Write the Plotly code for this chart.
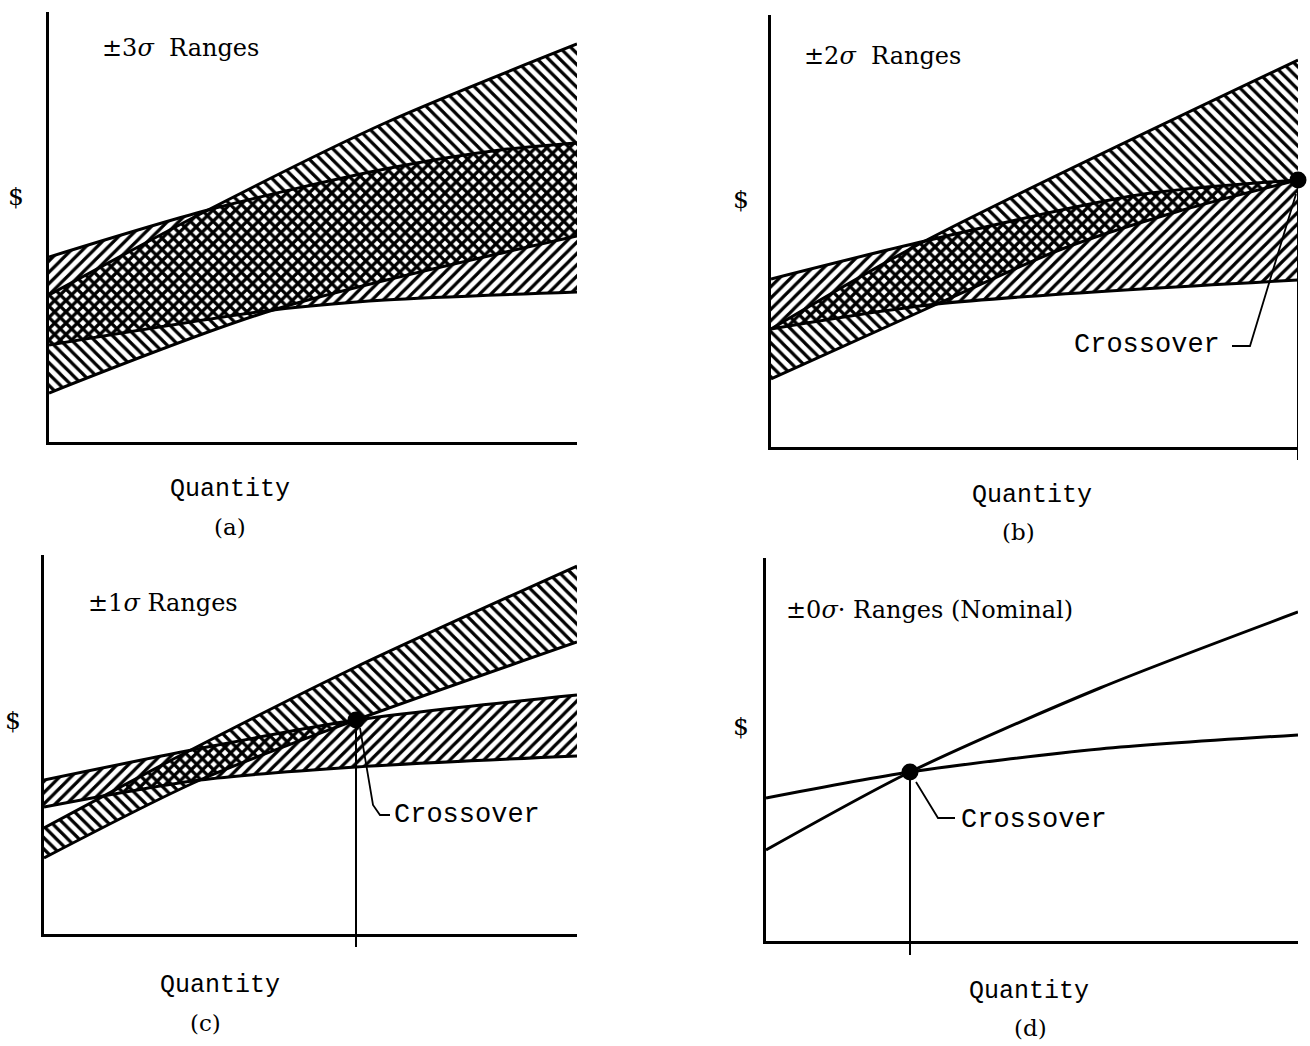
import plotly.graph_objects as go

# ---------------- data (offsets from each panel's origin, arbitrary $ / quantity units) -------------
# panel (a)  ±3σ
a_steep_hi_x = [0, 159, 336, 528]
a_steep_hi_y = [147, 232, 319, 398]
a_steep_lo_x = [0, 224, 528]
a_steep_lo_y = [49, 132, 206]
a_flat_hi_x = [0, 159, 336, 451, 528]
a_flat_hi_y = [185, 232, 273, 292, 299]
a_flat_lo_x = [0, 224, 336, 528]
a_flat_lo_y = [97, 132, 142, 150]

# panel (b)  ±2σ
b_steep_hi_x = [0, 154, 527]
b_steep_hi_y = [118, 206, 387]
b_steep_lo_x = [0, 166, 291, 405, 527]
b_steep_lo_y = [68, 143, 198, 235, 267]
b_flat_hi_x = [0, 154, 367, 527]
b_flat_hi_y = [168, 206, 252, 267]
b_flat_lo_x = [0, 166, 527]
b_flat_lo_y = [118, 143, 167]
b_cross = (527, 267)

# panel (c)  ±1σ
c_steep_hi_x = [0, 141, 312, 533]
c_steep_hi_y = [106, 181, 267, 368]
c_steep_lo_x = [0, 156, 312, 533]
c_steep_lo_y = [76, 154, 214, 292]
c_flat_hi_x = [0, 148, 312, 533]
c_flat_hi_y = [154, 184, 214, 239]
c_flat_lo_x = [0, 156, 312, 533]
c_flat_lo_y = [127, 154, 167, 178]
c_cross = (312, 214)

# panel (d)  ±0σ nominal
d_steep_x = [0, 144, 334, 532]
d_steep_y = [91, 169, 253, 329]
d_flat_x = [0, 144, 334, 532]
d_flat_y = [143, 169, 192, 206]
d_cross = (144, 169)

titles = ["±3<i>σ</i>  Ranges", "±2<i>σ</i>  Ranges", "±1<i>σ</i> Ranges", "±0<i>σ</i>· Ranges (Nominal)"]
letters = ["(a)", "(b)", "(c)", "(d)"]

# ---------------- layout geometry (pixels) ----------------
FW, FH = 1310, 1046
# left, right, top, bottom of each panel's axes
frames = [(49, 577, 12, 442), (771, 1298, 15, 447), (44, 577, 555, 934), (766, 1298, 558, 941)]

def px(x):
    return x / FW

def py(y):
    return 1 - y / FH

fig = go.Figure()
LW = 3
SERIF = "DejaVu Serif, Liberation Serif, serif"
MONO = "Liberation Mono, DejaVu Sans Mono, monospace"

def axname(i):
    return "" if i == 0 else str(i + 1)

def line(i, x, y, **kw):
    ax = axname(i)
    fig.add_trace(go.Scatter(x=x, y=y, mode="lines", xaxis="x" + ax, yaxis="y" + ax,
                             line=dict(color="black", width=LW, shape="spline", smoothing=0.8),
                             showlegend=False, hoverinfo="skip", **kw))

def band(i, lo_x, lo_y, hi_x, hi_y, shape):
    line(i, lo_x, lo_y)
    line(i, hi_x, hi_y, fill="tonexty", fillcolor="rgba(0,0,0,0)",
         fillpattern=dict(shape=shape, fgcolor="black", bgcolor="rgba(0,0,0,0)",
                          size=8, solidity=0.4, fillmode="replace"))

def dot(i, pt):
    ax = axname(i)
    fig.add_trace(go.Scatter(x=[pt[0]], y=[pt[1]], mode="markers", xaxis="x" + ax, yaxis="y" + ax,
                             marker=dict(color="black", size=17), cliponaxis=False,
                             showlegend=False, hoverinfo="skip"))

shapes = []

def drop(i, pt, bottom_px, below):
    ax = axname(i)
    fig.add_trace(go.Scatter(x=[pt[0], pt[0]], y=[pt[1], 0], mode="lines", xaxis="x" + ax, yaxis="y" + ax,
                             line=dict(color="black", width=2), cliponaxis=False,
                             showlegend=False, hoverinfo="skip"))
    # short continuation of the drop line below the quantity axis
    shapes.append(dict(type="line", xref="x" + ax, yref="paper", x0=pt[0], x1=pt[0],
                       y0=py(bottom_px), y1=py(bottom_px + below),
                       line=dict(color="black", width=2)))

# panel a
band(0, a_steep_lo_x, a_steep_lo_y, a_steep_hi_x, a_steep_hi_y, "\\")
band(0, a_flat_lo_x, a_flat_lo_y, a_flat_hi_x, a_flat_hi_y, "/")
# panel b
band(1, b_steep_lo_x, b_steep_lo_y, b_steep_hi_x, b_steep_hi_y, "\\")
band(1, b_flat_lo_x, b_flat_lo_y, b_flat_hi_x, b_flat_hi_y, "/")
drop(1, b_cross, frames[1][3], 13)
dot(1, b_cross)
# panel c
band(2, c_steep_lo_x, c_steep_lo_y, c_steep_hi_x, c_steep_hi_y, "\\")
band(2, c_flat_lo_x, c_flat_lo_y, c_flat_hi_x, c_flat_hi_y, "/")
drop(2, c_cross, frames[2][3], 13)
dot(2, c_cross)
# panel d
line(3, d_steep_x, d_steep_y)
line(3, d_flat_x, d_flat_y)
drop(3, d_cross, frames[3][3], 14)
dot(3, d_cross)

layout = dict(width=FW, height=FH, margin=dict(l=0, r=0, t=0, b=0),
              paper_bgcolor="white", plot_bgcolor="white", showlegend=False)
for i, (l, r, t, b) in enumerate(frames):
    ax = axname(i)
    layout["xaxis" + ax] = dict(domain=[px(l), px(r)], range=[0, r - l], anchor="y" + ax,
                                showline=True, linecolor="black", linewidth=LW, showgrid=False,
                                zeroline=False, showticklabels=False, ticks="", fixedrange=True)
    layout["yaxis" + ax] = dict(domain=[py(b), py(t)], range=[0, b - t], anchor="x" + ax,
                                showline=True, linecolor="black", linewidth=LW, showgrid=False,
                                zeroline=False, showticklabels=False, ticks="", fixedrange=True)
fig.update_layout(**layout)

ann = []
def text(x, y, s, font, size, xanchor="left"):
    ann.append(dict(x=px(x), y=py(y), xref="paper", yref="paper", text=s, showarrow=False,
                    xanchor=xanchor, yanchor="middle", font=dict(family=font, size=size, color="black")))

title_pos = [(100, 48), (802, 56), (86, 603), (784, 610)]
for s, (x, y) in zip(titles, title_pos):
    text(x, y, s, SERIF, 24)

dollar_pos = [(16, 196), (741, 200), (13, 720), (741, 726)]
for x, y in dollar_pos:
    text(x, y, "$", SERIF, 25, "center")

qty_pos = [(230, 489), (1032, 495), (220, 985), (1029, 991)]
let_pos = [(230, 527), (1018, 532), (205, 1023), (1030, 1028)]
for (qx, qy), (lx, ly), s in zip(qty_pos, let_pos, letters):
    text(qx, qy, "Quantity", MONO, 25, "center")
    text(lx, ly, s, SERIF, 23, "center")

text(1222, 345, "Crossover", MONO, 27, "right")
text(392, 815, "Crossover", MONO, 27, "left")
text(959, 820, "Crossover", MONO, 27, "left")
fig.update_layout(annotations=ann)

# leader lines from labels to crossover points
leaders = [
    [(1232, 346), (1250, 346), (1296, 194)],
    [(360, 728), (373, 805), (380, 815), (390, 815)],
    [(916, 782), (938, 818), (955, 818)],
]
for pts in leaders:
    d = "M " + " L ".join(f"{px(x)},{py(y)}" for x, y in pts)
    shapes.append(dict(type="path", path=d, xref="paper", yref="paper",
                       line=dict(color="black", width=1.8)))
fig.update_layout(shapes=shapes)

fig.write_html("out.html", config={"displayModeBar": False},
               post_script="document.body.style.margin='0';document.body.style.overflow='hidden';")
